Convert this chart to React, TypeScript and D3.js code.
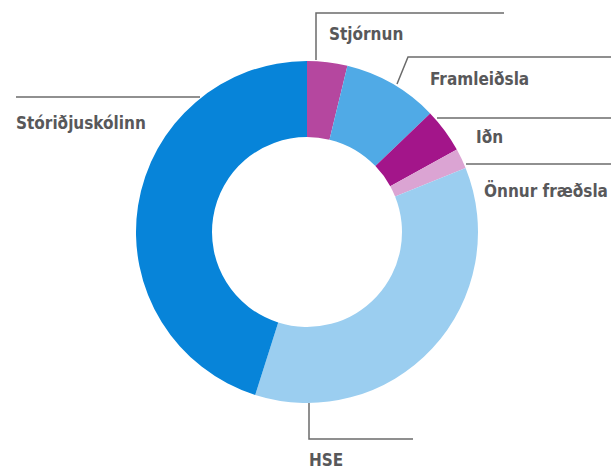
import React from 'react';
import * as d3 from 'd3';

const categories = ['Stjórnun', 'Framleiðsla', 'Iðn', 'Önnur fræðsla', 'HSE', 'Stóriðjuskólinn'];
const values = [3.8, 9.0, 4.2, 1.9, 36.0, 45.1];
const colors = ['#B5479F', '#50AAE6', '#A3158A', '#DBA4D3', '#9BCEF0', '#0784D9'];

const width = 611;
const height = 471;
const cx = 307;
const cy = 232;
const outerR = 171;
const innerR = 95;

// leader lines: points in page coordinates, then text position
const labelLayout = [
  { line: [[316, 60], [316, 13], [504, 13]], tx: 329, ty: 40 },
  { line: [[397, 84], [408, 57], [611, 57]], tx: 430, ty: 85 },
  { line: [[437, 118], [611, 118]], tx: 476, ty: 143 },
  { line: [[466, 164], [611, 164]], tx: 484, ty: 197 },
  { line: [[309, 403], [309, 439], [413, 439]], tx: 309, ty: 466 },
  { line: [[16, 97], [200, 97]], tx: 16, ty: 129 },
];

export default function App() {
  const data = categories.map((c, i) => ({ name: c, value: values[i], color: colors[i] }));
  const pie = d3.pie<{ name: string; value: number; color: string }>().value(d => d.value).sort(null);
  const arc = d3.arc<d3.PieArcDatum<{ name: string; value: number; color: string }>>()
    .innerRadius(innerR)
    .outerRadius(outerR);
  const arcs = pie(data);
  const line = d3.line();

  return (
    <div style={{ position: 'absolute', left: 0, top: 0 }}>
      <svg width={width} height={height} style={{ display: 'block' }}>
        <g>
          {labelLayout.map((l, i) => (
            <path key={i} d={line(l.line as [number, number][]) || ''} fill="none" stroke="#6b6b6b" strokeWidth={1.5} />
          ))}
        </g>
        <g transform={`translate(${cx},${cy})`}>
          {arcs.map((a, i) => (
            <path key={i} d={arc(a) || ''} fill={a.data.color} />
          ))}
        </g>
        <g fontFamily="'DejaVu Sans Condensed', 'DejaVu Sans', sans-serif" fontWeight="bold" fontSize={17} fill="#58585a">
          {labelLayout.map((l, i) => (
            <text key={i} x={l.tx} y={l.ty}>{categories[i]}</text>
          ))}
        </g>
      </svg>
    </div>
  );
}
